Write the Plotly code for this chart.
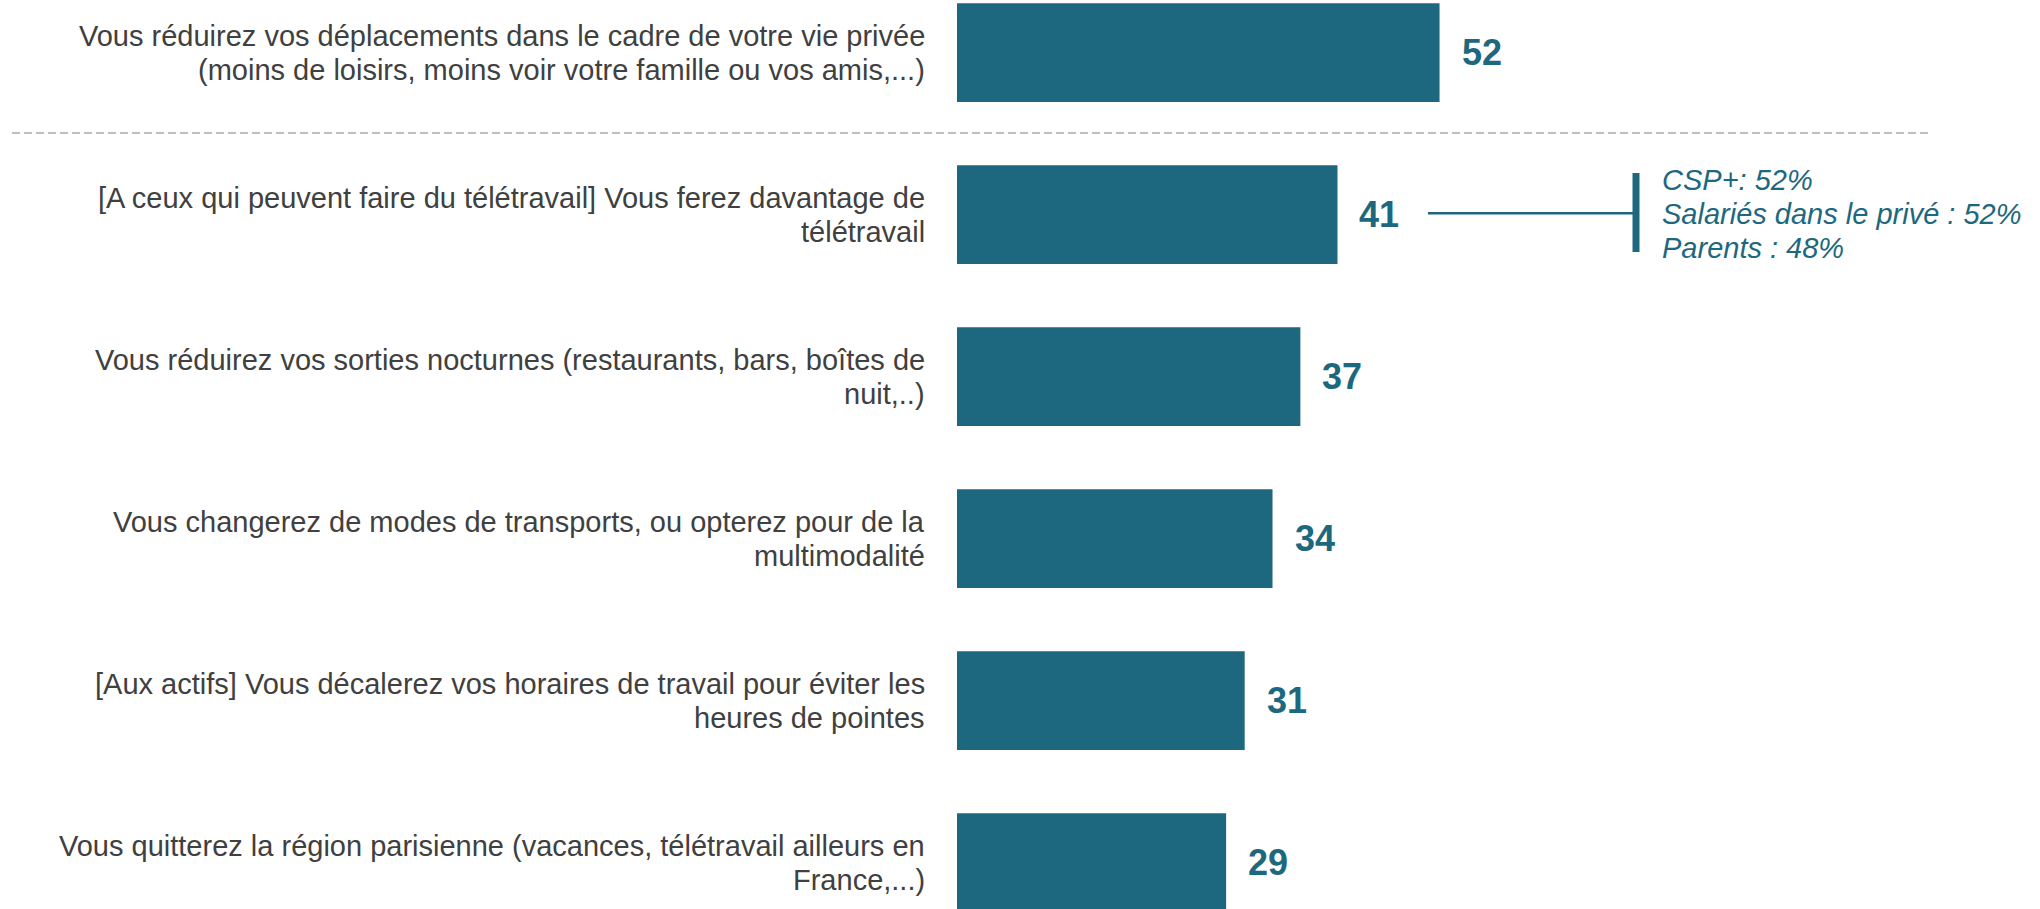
import plotly.graph_objects as go

# ---------------- data ----------------
categories = [
    "Vous réduirez vos déplacements dans le cadre de votre vie privée<br>(moins de loisirs, moins voir votre famille ou vos amis,...)",
    "[A ceux qui peuvent faire du télétravail] Vous ferez davantage de<br>télétravail",
    "Vous réduirez vos sorties nocturnes (restaurants, bars, boîtes de<br>nuit,..)",
    "Vous changerez de modes de transports, ou opterez pour de la<br>multimodalité",
    "[Aux actifs] Vous décalerez vos horaires de travail pour éviter les<br>heures de pointes",
    "Vous quitterez la région parisienne (vacances, télétravail ailleurs en<br>France,...)",
]
values = [52, 41, 37, 34, 31, 29]
note_lines = ["CSP+: 52%", "Salariés dans le privé : 52%", "Parents : 48%"]
note_row = 1

# ---------------- styling / layout constants ----------------
W, H = 2040, 909
PLOT_L = 957          # pixel where value 0 sits
PX_PER_UNIT = 9.28
ROW0 = 52.7           # pixel centre of first bar
ROW_STEP = 162.0
BAR_H = 98.7
TEAL = "#1d687e"
LABEL_COL = "#404040"
FONT = "Arial, Liberation Sans, sans-serif"
LINE_GAP = 34

x_max = (W - PLOT_L) / PX_PER_UNIT
y_top = -ROW0 / ROW_STEP
y_bot = (H - ROW0) / ROW_STEP
plot_w = W - PLOT_L


def px_x(px):
    return (px - PLOT_L) / plot_w


rows = list(range(len(values)))

fig = go.Figure(
    go.Bar(
        x=values,
        y=rows,
        orientation="h",
        width=BAR_H / ROW_STEP,
        marker=dict(color=TEAL, line=dict(width=0)),
        hoverinfo="skip",
    )
)

annotations = []
# category labels (one annotation per line for tight line spacing)
for i, cat in enumerate(categories):
    lines = cat.split("<br>")
    n = len(lines)
    for k, ln in enumerate(lines):
        annotations.append(dict(
            xref="x", yref="y", x=0, y=i, xshift=-30,
            yshift=-((k - (n - 1) / 2) * LINE_GAP),
            xanchor="right", yanchor="middle", showarrow=False,
            text=ln, align="right",
            font=dict(family=FONT, size=29, color=LABEL_COL),
        ))

# value labels
for i, v in enumerate(values):
    annotations.append(dict(
        xref="x", yref="y", x=v, y=i, xshift=20,
        xanchor="left", yanchor="middle", showarrow=False,
        text=str(v),
        font=dict(family=FONT, size=36, color=TEAL, weight="bold"),
    ))

# side note
n = len(note_lines)
for k, ln in enumerate(note_lines):
    annotations.append(dict(
        xref="paper", yref="y", x=px_x(1660), y=note_row,
        yshift=-((k - (n - 1) / 2) * LINE_GAP) + 1,
        xanchor="left", yanchor="middle", showarrow=False,
        text=ln,
        font=dict(family=FONT, size=29, color=TEAL, style="italic"),
    ))

shapes = [
    # dashed separator
    dict(type="line", xref="paper", yref="paper",
         x0=px_x(12), x1=px_x(1931), y0=1 - 133 / H, y1=1 - 133 / H,
         line=dict(color="#bfbfbf", width=2, dash="8px,4px")),
    # bracket connector
    dict(type="line", xref="paper", yref="y",
         x0=px_x(1428), x1=px_x(1636), y0=note_row - 1.5 / ROW_STEP, y1=note_row - 1.5 / ROW_STEP,
         line=dict(color=TEAL, width=2.5)),
    dict(type="line", xref="paper", yref="y",
         x0=px_x(1636), x1=px_x(1636), y0=note_row - 41.7 / ROW_STEP, y1=note_row + 37.3 / ROW_STEP,
         line=dict(color=TEAL, width=7)),
]

fig.update_layout(
    width=W, height=H,
    margin=dict(l=PLOT_L, r=0, t=0, b=0, pad=0),
    paper_bgcolor="white", plot_bgcolor="white",
    showlegend=False,
    xaxis=dict(range=[0, x_max], visible=False, fixedrange=True),
    yaxis=dict(range=[y_bot, y_top], visible=False, fixedrange=True),
    annotations=annotations,
    shapes=shapes,
    font=dict(family=FONT),
)

fig.write_html(
    "out.html",
    config=dict(displayModeBar=False),
    post_script="document.body.style.margin='0';document.body.style.overflow='hidden';",
)
